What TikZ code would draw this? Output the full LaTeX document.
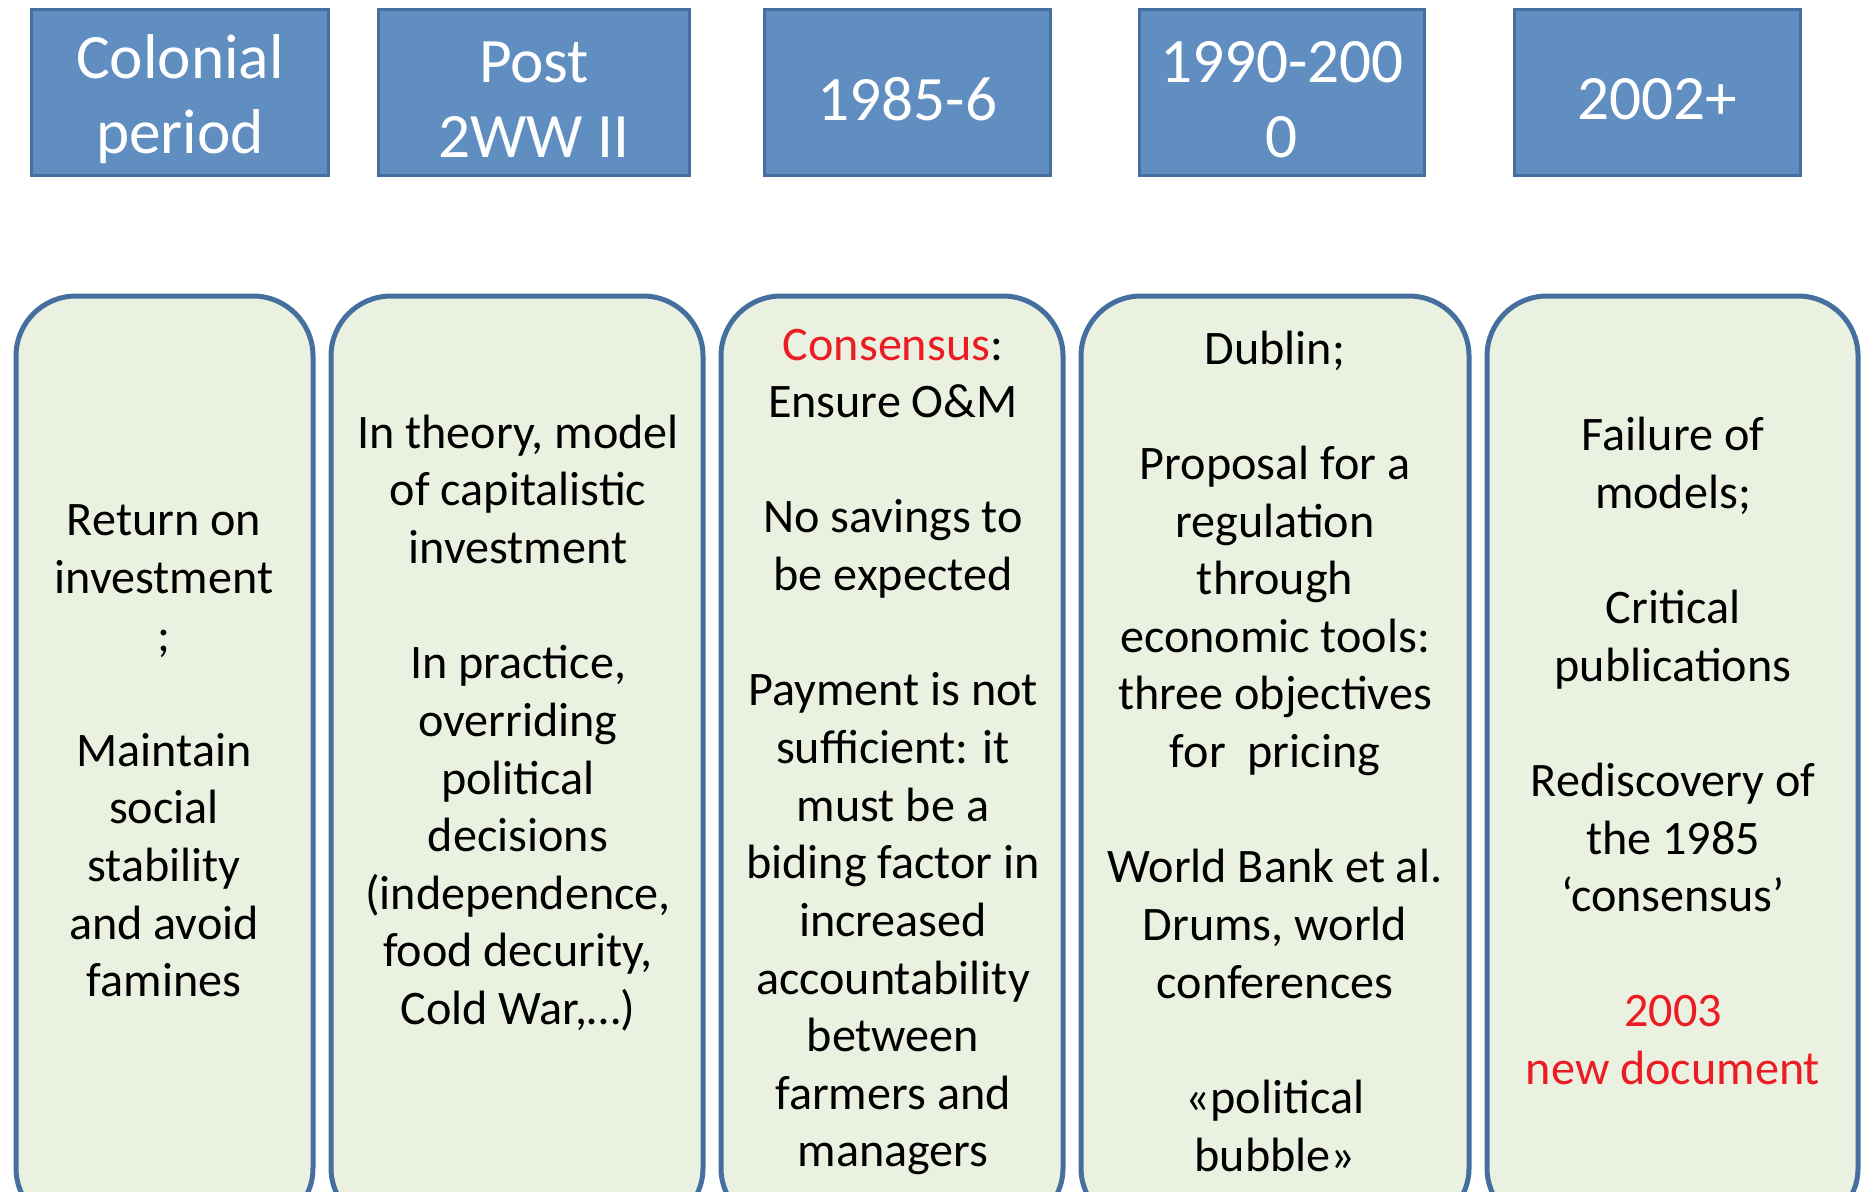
\documentclass[tikz,border=0pt]{standalone}
\usepackage{fontspec}
\setmainfont{Carlito}
\definecolor{edgeblue}{RGB}{68,111,158}
\definecolor{headblue}{RGB}{96,142,192}
\definecolor{paleolive}{RGB}{235,241,224}
\definecolor{hotred}{RGB}{236,28,36}

\begin{document}
\begin{tikzpicture}[
          x = 0.1mm, y = -0.1mm,
 period/.style = {rectangle, draw=edgeblue, fill=headblue, line width=0.35mm,
                  inner sep=0pt, minimum width=#1, minimum height=16.6mm},
   head/.style = {text=white, align=center, inner sep=0pt,
                  font=\fontsize{18}{21.3}\selectfont},
  phase/.style = {rectangle, rounded corners=6mm, draw=edgeblue,
                  fill=paleolive, line width=0.5mm, inner sep=0pt,
                  minimum width=#1, minimum height=93.2mm},
   note/.style = {align=center, inner sep=0pt,
                  font=\fontsize{13.7}{16.4}\selectfont}
                        ]
\useasboundingbox (0,0) rectangle (1864,1191);
\clip (0,0) rectangle (1864,1191);
% periods
\node (colonial) [period=29.7mm] at (180,92.5)    {};
\node (postwar)  [period=31.1mm] at (534,92.5)    {};
\node (yrA)      [period=28.6mm] at (907.5,92.5)  {};
\node (yrB)      [period=28.5mm] at (1282,92.5)   {};
\node (yrC)      [period=28.6mm] at (1657.5,92.5) {};
\node (colonialhead) [head] at ([yshift=-0.7mm]colonial.center) {Colonial\\period};
\node (postwarhead)  [head] at ([yshift=-0.7mm]postwar.center)  {Post\\2WW II};
\node (yrAhead)      [head] at ([yshift=-0.7mm]yrA.center)      {1985-6};
\node (yrBhead)      [head] at ([yshift=-0.7mm]yrB.center)      {1990-200\\0};
\node (yrChead)      [head] at ([yshift=-0.7mm]yrC.center)      {2002+};
% phases
\node (colonialbox) [phase=29.7mm] at (164.5,762) {};
\node (postwarbox)  [phase=37.2mm] at (517,762)   {};
\node (yrAbox)      [phase=34.2mm] at (892,762)   {};
\node (yrBbox)      [phase=38.8mm] at (1275,762)  {};
\node (yrCbox)      [phase=37.1mm] at (1672.5,762) {};
% texts
\node (colonialtxt) [note] at (164,751) {Return on\\investment\\;\\~\\Maintain\\social\\stability\\and avoid\\famines};
\node (postwartxt) [note] at (518,723) {In theory, model\\of capitalistic\\investment\\~\\In practice,\\overriding\\political\\decisions\\(independence,\\food decurity,\\Cold War,…)};
\node (yrAtxt) [note] at (893,752) {\textcolor{hotred}{Consensus}:\\Ensure O\&M\\~\\No savings to\\be expected\\~\\Payment is not\\sufficient: it\\must be a\\biding factor in\\increased\\accountability\\between\\farmers and\\managers};
\node (yrBtxt) [note] at (1275,751) {Dublin;\\~\\Proposal for a\\regulation\\through\\economic tools:\\three objectives\\for\ \ pricing\\~\\World Bank et al.\\Drums, world\\conferences\\~\\«political\\bubble»};
\node (yrCtxt) [note] at (1673,751) {Failure of\\models;\\~\\Critical\\publications\\~\\Rediscovery of\\the 1985\\‘consensus’\\~\\\textcolor{hotred}{2003}\\\textcolor{hotred}{new document}};
\end{tikzpicture}
\end{document}
